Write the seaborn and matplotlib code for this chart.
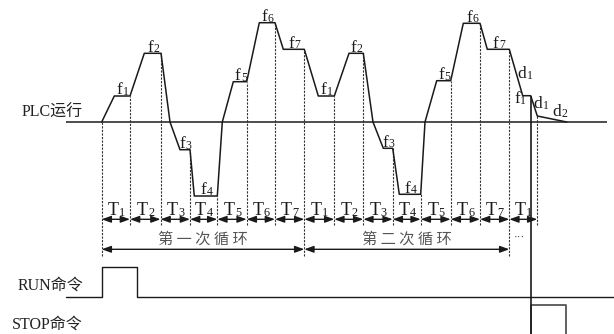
import matplotlib
matplotlib.use("Agg")
import matplotlib.pyplot as plt
import seaborn as sns
import numpy as np
import pandas as pd

# ---------------- data ----------------
# waveform of the output frequency (time, frequency level)
wave_t = [101.7, 114.3, 130, 144.3, 161, 170, 180, 190, 194.3, 217.3, 222.3, 233.3,
          246.7, 259.3, 275, 283.3, 304.3,
          318.3, 334.3, 349, 363.3, 373, 383.3, 392.7, 399.3, 420.7, 425, 436.7,
          450.7, 463.3, 480, 487.3, 509.3, 522.7, 530.7, 537.3, 566.7]
wave_f = [0, 26, 26, 68.7, 68.7, 0, -27.7, -27.7, -74, -74, 0, 40.3,
          40.3, 99.3, 99.3, 72.7, 72.7,
          26, 26, 68.7, 68.7, 0, -26.3, -26.3, -72.3, -72.3, 0, 41.3,
          41.3, 98.7, 98.7, 72.7, 72.7, 26.3, 26.3, 6, 0]
step_names = ["1", "2", "3", "4", "5", "6", "7", "1", "2", "3", "4", "5", "6", "7"]
# step boundaries (time)
bounds = [101.7, 130, 160.5, 190, 217.3, 246.7, 275, 304.3,
          334.3, 363.3, 392.7, 420.7, 450.7, 480, 509.3, 537.3]
period_names = ["1", "2", "3", "4", "5", "6", "7", "1", "2", "3", "4", "5", "6", "7", "1"]
cycle_names = ["第 一 次 循 环", "第 二 次 循 环"]
cycle_idx = [0, 7, 14]
# command pulses
run_t = [66, 101.7, 101.7, 136.7, 136.7, 614]
run_v = [0, 0, 1, 1, 0, 0]
stop_t = [530.7, 530.7, 565.7, 565.7]
stop_v = [0, 1, 1, 0]

# ---------------- style ----------------
sns.set_theme(style="white")
plt.rcParams["font.family"] = ["Liberation Serif", "Noto Sans CJK SC", "DejaVu Sans"]

fig = plt.figure(figsize=(6.14, 3.34), dpi=100)
ax = fig.add_axes([0, 0, 1, 1])
ax.set_xlim(0, 614)
ax.set_ylim(-212, 122)
ax.axis("off")

INK = "#1a1a1a"
RUN_Y, RUN_H = -174.7, 30
STOP_Y, STOP_H = -217, 34


def sub_label(x, y, letter, digit, size=12.5, shift=3.0, drop=0.5):
    """letter with a small digit sitting on (about) its baseline, centred at x."""
    t = ax.text(x - shift, y, letter, ha="center", va="baseline", fontsize=size,
                color=INK, family=["Liberation Serif"])
    ax.annotate(digit, xy=(1, y), xycoords=(t, "data"),
                xytext=(0.3, -drop), textcoords="offset points",
                ha="left", va="baseline", fontsize=size * 0.68, color=INK,
                family=["Liberation Serif"])
    return t


# PLC run baseline
ax.hlines(0, 66, 607, color="#4d4d4d", lw=1.4, zorder=1)

# waveform
df = pd.DataFrame({"t": wave_t, "f": wave_f})
sns.lineplot(data=df, x="t", y="f", sort=False, color=INK, lw=1.1, ax=ax, zorder=3)

# dashed step boundaries
tops = np.interp(bounds, wave_t, wave_f)
for i, b in enumerate(bounds):
    bottom = -134 if i in cycle_idx else -103
    ax.vlines(b, bottom, tops[i], colors="#333333", lw=0.8,
              linestyles=(0, (2.0, 1.2)), zorder=2)

# frequency labels on plateaus
plateaus = []
for i in range(len(wave_t) - 1):
    if wave_f[i] == wave_f[i + 1] and wave_f[i] != 0:
        plateaus.append(((wave_t[i] + wave_t[i + 1]) / 2, wave_f[i]))
for (px, py), name in zip(plateaus, step_names):
    sub_label(px, py + 1.5, "f", name, size=12.5, shift=2.5)

# deceleration labels
sub_label(525, 44, "d", "1", size=12.5)
sub_label(519.5, 19, "f", "1", size=12.5, shift=2.5)
sub_label(541, 14, "d", "1", size=12.5)
sub_label(559.5, 6, "d", "2", size=12.5)

# period arrows
arrow = dict(arrowstyle="<|-|>,head_length=0.55,head_width=0.2", color=INK, lw=1.0,
             shrinkA=0, shrinkB=0, mutation_scale=10)
for i, name in enumerate(period_names):
    a, b = bounds[i], bounds[i + 1]
    ax.annotate("", xy=(a, -97.3), xytext=(b, -97.3), arrowprops=arrow)
    sub_label((a + b) / 2, -93, "T", name, size=13, shift=3.0)

# cycle arrows
for k, name in enumerate(cycle_names):
    a, b = bounds[cycle_idx[k]], bounds[cycle_idx[k + 1]]
    ax.annotate("", xy=(a, -127.3), xytext=(b, -127.3), arrowprops=arrow)
    ax.text((a + b) / 2, -117, name, ha="center", va="center", fontsize=11,
            color="#555555", family=["Noto Sans CJK SC"])
ax.text(519, -115, "···", ha="center", va="center", fontsize=8, color="#444444")

# RUN command
ax.plot(run_t, [RUN_Y + RUN_H * v for v in run_v], color=INK, lw=1.0, zorder=2)
# STOP command
ax.plot(stop_t, [STOP_Y + STOP_H * v for v in stop_v], color="#555555", lw=1.3, zorder=2)
ax.vlines(530.7, STOP_Y, 26.3, colors=INK, lw=1.2, zorder=3)

# row labels
ax.text(83, 9.5, "PLC运行", ha="right", va="center", fontsize=11.5, color="#222222")
ax.text(83, -164, "RUN命令", ha="right", va="center", fontsize=11.5, color="#222222")
ax.text(83, -203, "STOP命令", ha="right", va="center", fontsize=11.5, color="#222222")

fig.savefig("out.png", dpi=100)
